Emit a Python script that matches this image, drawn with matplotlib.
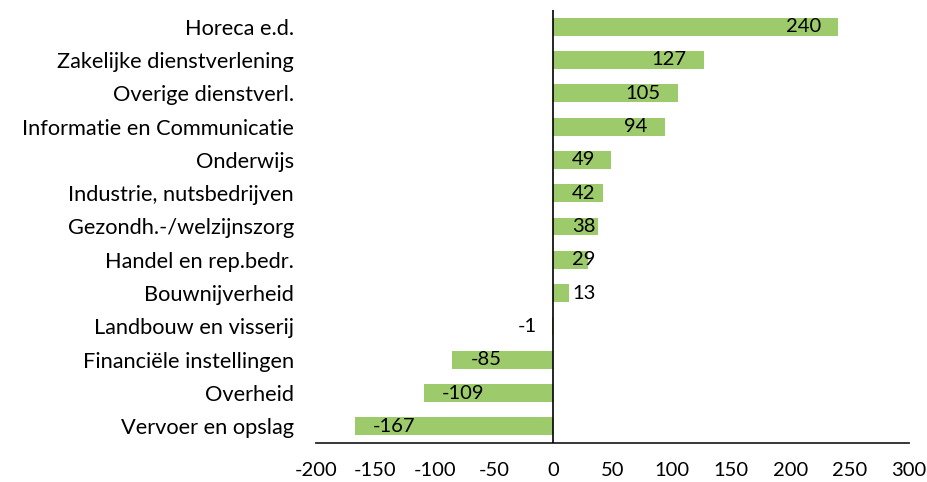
import matplotlib
matplotlib.use("Agg")
import matplotlib.pyplot as plt
import numpy as np

categories = ["Horeca e.d.", "Zakelijke dienstverlening", "Overige dienstverl.",
              "Informatie en Communicatie", "Onderwijs", "Industrie, nutsbedrijven",
              "Gezondh.-/welzijnszorg", "Handel en rep.bedr.", "Bouwnijverheid",
              "Landbouw en visserij", "Financiële instellingen", "Overheid",
              "Vervoer en opslag"]
values = [240, 127, 105, 94, 49, 42, 38, 29, 13, -1, -85, -109, -167]
xticks = [-200, -150, -100, -50, 0, 50, 100, 150, 200, 250, 300]

plt.rcParams['font.family'] = ['Lato', 'DejaVu Sans']
FS_CAT = 15.7
FS_TICK = 14.5
FS_VAL = 14.5
W, H, DPI = 928, 482, 100
fig = plt.figure(figsize=(W / DPI, H / DPI), dpi=DPI)
ax = fig.add_axes([316 / W, 1 - 443 / H, (909 - 316) / W, (443 - 10) / H])

y = np.arange(len(categories))
ax.barh(y, values, height=0.54, color="#9DCB6C", zorder=2)
ax.set_ylim(len(categories) - 0.5, -0.5)
ax.set_xlim(-200, 300)
ax.set_yticks(y)
ax.set_yticklabels(categories, fontsize=FS_CAT, color="#000000")
ax.set_xticks(xticks)
ax.set_xticklabels([str(t) for t in xticks], fontsize=FS_TICK, color="#000000")
ax.tick_params(axis='y', length=0, pad=16)
ax.tick_params(axis='x', length=0, pad=14)
for s in ["top", "right", "left"]:
    ax.spines[s].set_visible(False)
ax.spines["bottom"].set_color("#262626")
ax.spines["bottom"].set_linewidth(1.3)
ax.axvline(0, color="#000000", lw=1.2, zorder=3)

fig.canvas.draw()
renderer = fig.canvas.get_renderer()
to_px = ax.transData
zero_px = to_px.transform((0, 0))[0]
for yi, v in zip(y, values):
    t = ax.text(0, yi, str(v), fontsize=FS_VAL, va='center', ha='left', color="#000000", zorder=4)
    w = t.get_window_extent(renderer).width
    end_px = to_px.transform((v, 0))[0]
    if v >= 0:
        left = max(end_px - 17 - w, zero_px + 19)
    else:
        left = min(end_px + 18, zero_px - 16 - w)
    x_data = to_px.inverted().transform((left, 0))[0]
    t.set_x(x_data)

fig.savefig("out.png", dpi=DPI)
